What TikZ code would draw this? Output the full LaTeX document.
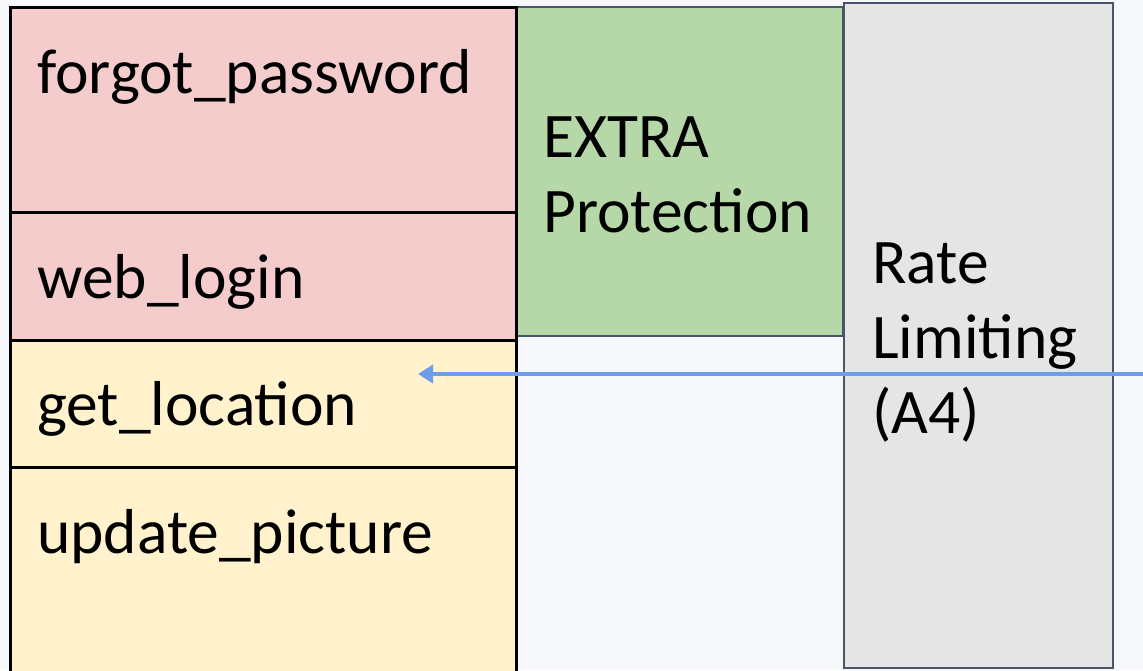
\documentclass[tikz,border=0pt]{standalone}
\usepackage{fontspec}
\setmainfont{Carlito}
\usetikzlibrary{arrows.meta}
\definecolor{bgcol}{HTML}{F7F8FC}
\definecolor{pinkfill}{HTML}{F4CCCC}
\definecolor{yellowfill}{HTML}{FFF2CC}
\definecolor{greenfill}{HTML}{B6D7A8}
\definecolor{grayfill}{HTML}{E5E5E5}
\definecolor{slateline}{HTML}{4A5568}
\definecolor{arrowblue}{HTML}{6D9EEB}
\tikzset{
  endpoint/.style={draw=black, line width=3pt, inner sep=0pt, outer sep=0pt, anchor=north west},
  layer/.style={draw=slateline, line width=2pt, inner sep=0pt, outer sep=0pt, anchor=north west},
  label/.style={anchor=base west, inner sep=0pt, font=\fontsize{63.5}{76}\selectfont, text=black},
  call/.style={draw=arrowblue, line width=4pt, -{Triangle[length=15pt,width=18pt]}}
}
\begin{document}
\begin{tikzpicture}[x=1pt,y=-1pt]
  \useasboundingbox (0,0) rectangle (1143,670);
  \clip (0,0) rectangle (1143,670);
  \fill[bgcol] (0,0) rectangle (1143,670);

  % protection layers
  \node[layer, fill=greenfill, minimum width=327pt, minimum height=329pt] (extra) at (516,7) {};
  \node[layer, fill=grayfill, minimum width=269pt, minimum height=665pt] (rate) at (844,3) {};

  % endpoints
  \node[endpoint, fill=pinkfill, minimum width=506pt, minimum height=205pt] (fp) at (10,7) {};
  \node[endpoint, fill=pinkfill, minimum width=506pt, minimum height=128pt] (wl) at (10,212) {};
  \node[endpoint, fill=yellowfill, minimum width=506pt, minimum height=127pt] (gl) at (10,340) {};
  \node[endpoint, fill=yellowfill, minimum width=506pt, minimum height=230pt] (up) at (10,467) {};

  % labels
  \node[label] (fpt) at (37,93) {forgot\_password};
  \node[label] (wlt) at (37,298) {web\_login};
  \node[label] (glt) at (37,425) {get\_location};
  \node[label] (upt) at (37,553) {update\_picture};
  \node[label] (ex1) at (543,157) {EXTRA};
  \node[label] (ex2) at (543,232) {Protection};
  \node[label] (rl1) at (872,283) {Rate};
  \node[label] (rl2) at (872,358) {Limiting};
  \node[label] (rl3) at (872,433) {(A4)};

  % incoming request
  \coordinate (src) at (1150,374);
  \coordinate (dst) at (418,374);
  \draw[call] (src) -- (dst);
\end{tikzpicture}
\end{document}
